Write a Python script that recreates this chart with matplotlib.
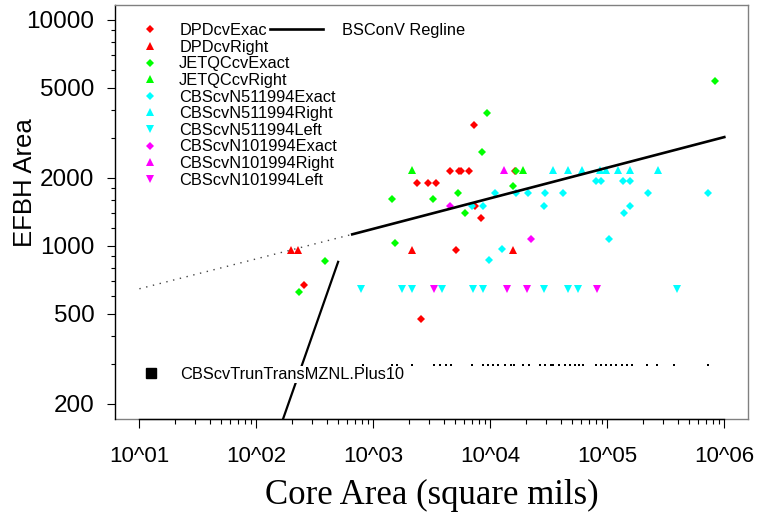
import matplotlib.pyplot as plt
from matplotlib.lines import Line2D
from matplotlib.ticker import FixedLocator, FixedFormatter, NullFormatter

plt.rcParams['font.family'] = ['Liberation Sans', 'DejaVu Sans']

# DPDcv
dpd_exact_x = [7260, 4530, 5430, 5620, 6620, 2360, 2920, 3410, 8330, 5060, 257, 2540, 7400, 16400]
dpd_exact_y = [3430, 2150, 2150, 2150, 2150, 1890, 1890, 1890, 1330, 955, 670, 477, 1500, 2150]
dpd_right_x = [198, 229, 2155, 15730]
dpd_right_y = [960, 960, 960, 960]

# JETQCcv
jet_exact_x = [9370, 8440, 1440, 3260, 5325, 6080, 15570, 16420, 1520, 384, 233, 833000]
jet_exact_y = [3860, 2590, 1615, 1615, 1720, 1395, 1850, 2150, 1030, 860, 624, 5390]
jet_right_x = [2130, 19020]
jet_right_y = [2160, 2160]

# CBScvN511994
n51_exact_x = [7015, 8610, 9750, 10970, 12510, 16500, 20800, 29050, 28900, 42070,
               79600, 87850, 104000, 137000, 156300, 139700, 156300, 224000, 729500]
n51_exact_y = [1500, 1500, 862, 1710, 964, 1710, 1710, 1710, 1500, 1710,
               1940, 1940, 1074, 1940, 1940, 1395, 1500, 1710, 1710]
n51_right_x = [34530, 46400, 61110, 86660, 97500, 124200, 156300, 271200]
n51_right_y = [2160, 2160, 2160, 2160, 2160, 2160, 2160, 2160]
n51_left_x = [789, 1770, 2155, 3845, 7156, 8610, 28500, 46400, 55850, 392000]
n51_left_y = [645, 645, 645, 645, 645, 645, 645, 645, 645, 645]

# CBScvN101994
n10_exact_x = [4530, 22400]
n10_exact_y = [1500, 1074]
n10_right_x = [13090]
n10_right_y = [2160]
n10_left_x = [3320, 13800, 20710, 81130]
n10_left_y = [645, 645, 645, 645]

# CBScvTrunTransMZNL.Plus10
trun_x = [821, 1436, 1603, 2130, 3303, 3716, 4180, 4588, 6936, 8610,
          9617, 10610, 11710, 13360, 14940, 15950, 19140, 21540, 26600, 29510,
          32820, 34530, 38900, 43480, 47990, 52950, 57660, 62370, 80020, 88330,
          97500, 106900, 118700, 132800, 146600, 161700, 217100, 264400, 371700, 729500]
trun_y = [298, 298, 298, 298, 298, 298, 298, 298, 298, 298,
          298, 298, 298, 298, 298, 298, 298, 298, 298, 298,
          298, 298, 298, 298, 298, 298, 298, 298, 298, 298,
          298, 298, 298, 298, 298, 298, 298, 298, 298, 298]

# regression lines
reg_dot_x = [10, 660]
reg_dot_y = [646, 1125]
reg_x = [660, 1000000]
reg_y = [1125, 3030]
steep_x = [160, 500]
steep_y = [158, 850]

x_major = [10, 100, 1000, 10000, 100000, 1000000]
x_labels = ['10^01', '10^02', '10^03', '10^04', '10^05', '10^06']
x_minor = [k * d for d in [10, 100, 1000, 10000, 100000] for k in range(2, 10)]
y_major = [200, 500, 1000, 2000, 5000, 10000]
y_labels = ['200', '500', '1000', '2000', '5000', '10000']
y_minor = [300, 400, 600, 700, 800, 900, 1200, 1400, 1600, 1800,
           3000, 4000, 6000, 7000, 8000, 9000]

fig = plt.figure(figsize=(7.65, 5.14), dpi=100)
ax = fig.add_axes([115 / 765, 95 / 514, 633 / 765, 414 / 514])
ax.set_xscale('log')
ax.set_yscale('log')
ax.set_xlim(6.19, 1.594e6)
ax.set_ylim(171.4, 11640)

ms_d = 4.5
ms_t = 6.4
h1, = ax.plot(dpd_exact_x, dpd_exact_y, 'D', color='red', ms=ms_d, mew=0, label='DPDcvExact')
h2, = ax.plot(dpd_right_x, dpd_right_y, '^', color='red', ms=ms_t, mew=0, label='DPDcvRight')
h3, = ax.plot(jet_exact_x, jet_exact_y, 'D', color='#00ff00', ms=ms_d, mew=0, label='JETQCcvExact')
h4, = ax.plot(jet_right_x, jet_right_y, '^', color='#00ff00', ms=ms_t, mew=0, label='JETQCcvRight')
h5, = ax.plot(n51_exact_x, n51_exact_y, 'D', color='cyan', ms=ms_d, mew=0, label='CBScvN511994Exact')
h6, = ax.plot(n51_right_x, n51_right_y, '^', color='cyan', ms=ms_t, mew=0, label='CBScvN511994Right')
h7, = ax.plot(n51_left_x, n51_left_y, 'v', color='cyan', ms=ms_t, mew=0, label='CBScvN511994Left')
h8, = ax.plot(n10_exact_x, n10_exact_y, 'D', color='magenta', ms=ms_d, mew=0, label='CBScvN101994Exact')
h9, = ax.plot(n10_right_x, n10_right_y, '^', color='magenta', ms=ms_t, mew=0, label='CBScvN101994Right')
h10, = ax.plot(n10_left_x, n10_left_y, 'v', color='magenta', ms=ms_t, mew=0, label='CBScvN101994Left')
ax.plot(trun_x, trun_y, 's', color='black', ms=1.5, mew=0)

ax.plot(reg_dot_x, reg_dot_y, color='#444444', lw=1.0, ls=(0, (1, 4)))
reg_line, = ax.plot(reg_x, reg_y, color='black', lw=1.9)
ax.plot(steep_x, steep_y, color='black', lw=1.6)

# axes frame: grey box, black axis lines over tick range
for s in ax.spines.values():
    s.set_color('#808080')
    s.set_linewidth(1.0)
ax.spines['bottom'].set_bounds(10, 1000000)
ax.spines['bottom'].set_color('black')
ax.spines['left'].set_color('black')
ax.plot([0, 1], [0, 0], transform=ax.transAxes, color='#808080', lw=1.0, clip_on=False, zorder=0)

ax.xaxis.set_major_locator(FixedLocator(x_major))
ax.xaxis.set_major_formatter(FixedFormatter(x_labels))
ax.xaxis.set_minor_locator(FixedLocator(x_minor))
ax.xaxis.set_minor_formatter(NullFormatter())
ax.yaxis.set_major_locator(FixedLocator(y_major))
ax.yaxis.set_major_formatter(FixedFormatter(y_labels))
ax.yaxis.set_minor_locator(FixedLocator(y_minor))
ax.yaxis.set_minor_formatter(NullFormatter())
ax.tick_params(axis='x', which='major', length=6.5, width=0.8, pad=13, labelsize=16)
ax.tick_params(axis='x', which='minor', length=3.4, width=0.8)
ax.tick_params(axis='y', which='major', length=5.8, width=0.8, pad=9, labelsize=17.5)
ax.tick_params(axis='y', which='minor', length=2.9, width=0.8)

ax.set_xlabel('Core Area (square mils)', family='Liberation Serif', fontsize=25)
ax.xaxis.set_label_coords(0.5, -0.145)
ax.set_ylabel('EFBH Area', fontsize=18.5)
ax.yaxis.set_label_coords(-0.123, 0.57)

ft = fig.transFigure
leg1 = ax.legend(handles=[h1, h2, h3, h4, h5, h6, h7, h8, h9, h10], loc='upper left',
                 bbox_to_anchor=(141.8 / 765, 1 - 23 / 514), bbox_transform=ft,
                 frameon=False, fontsize=11.8, handlelength=1.0, handletextpad=1.28,
                 labelspacing=0.1, borderpad=0, borderaxespad=0)
ax.add_artist(leg1)

box = Line2D([], [], marker='s', color='black', ls='none', ms=6.5)
leg3 = ax.legend(handles=[box], labels=['CBScvTrunTransMZNL.Plus10'], loc='upper left',
                 bbox_to_anchor=(141.8 / 765, 1 - 366 / 514), bbox_transform=ft,
                 frameon=True, facecolor='white', edgecolor='none', framealpha=1,
                 fancybox=False, fontsize=11.8, handlelength=1.0, handletextpad=1.28,
                 borderpad=0.05, borderaxespad=0)
ax.add_artist(leg3)

ax.legend(handles=[reg_line], labels=['BSConV Regline'], loc='upper left',
          bbox_to_anchor=(266 / 765, 1 - 19 / 514), bbox_transform=ft,
          frameon=True, facecolor='white', edgecolor='none', framealpha=1,
          fancybox=False, fontsize=11.8, handlelength=3.2, handletextpad=1.16,
          borderpad=0.25, borderaxespad=0)

fig.savefig('out.png', dpi=100)
